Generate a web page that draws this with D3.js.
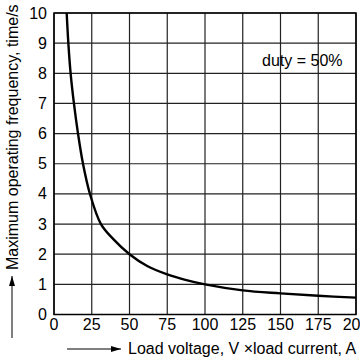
<!DOCTYPE html>
<html>
<head>
    <script src="https://cdn.jsdelivr.net/npm/d3@7"></script>
</head>
<body style="margin:0px; background:white;">
    <svg id="chart" width="360" height="358"></svg>
    <script>
        // values (load VA vs. max frequency)
        var loadVA = [8.4, 9.5, 11, 13.2, 15.9, 19.2, 23.8, 31.1, 39.3, 50, 62, 75, 87, 100, 125, 150, 175, 200];
        var maxFreq = [10, 9, 8, 7, 6, 5, 4, 3, 2.5, 2, 1.6, 1.33, 1.15, 1.0, 0.8, 0.7, 0.62, 0.56];
        var xTicks = [0, 25, 50, 75, 100, 125, 150, 175, 200];
        var yTicks = [0, 1, 2, 3, 4, 5, 6, 7, 8, 9, 10];

        var plotL = 54, plotR = 356, plotT = 13, plotB = 314.5;
        var svg = d3.select("#chart").style("font-family", "'Liberation Sans', Arial, sans-serif");

        var x = d3.scaleLinear().domain([0, 200]).range([plotL, plotR]);
        var y = d3.scaleLinear().domain([0, 10]).range([plotB, plotT]);

        // grid
        svg.append("g")
            .selectAll("line")
            .data(xTicks)
            .enter()
            .append("line")
            .attr("x1", d => x(d)).attr("x2", d => x(d))
            .attr("y1", plotT).attr("y2", plotB)
            .style("stroke", "#222").style("stroke-width", "1.2px");
        svg.append("g")
            .selectAll("line")
            .data(yTicks)
            .enter()
            .append("line")
            .attr("x1", plotL).attr("x2", plotR)
            .attr("y1", d => y(d)).attr("y2", d => y(d))
            .style("stroke", "#222").style("stroke-width", "1.2px");

        // frame
        svg.append("rect")
            .attr("x", plotL).attr("y", plotT)
            .attr("width", plotR - plotL).attr("height", plotB - plotT)
            .style("fill", "none").style("stroke", "black").style("stroke-width", "1.5px");

        // curve
        var pts = loadVA.map((v, i) => [v, maxFreq[i]]);
        svg.append("path")
            .datum(pts)
            .attr("d", d3.line().x(d => x(d[0])).y(d => y(d[1])).curve(d3.curveCatmullRom.alpha(0.5)))
            .style("fill", "none").style("stroke", "black").style("stroke-width", "2.4px");

        // tick labels
        svg.append("g")
            .selectAll("text")
            .data(xTicks)
            .enter()
            .append("text")
            .attr("x", d => x(d)).attr("y", 330)
            .attr("text-anchor", "middle")
            .style("font-size", "16px")
            .text(d => d);
        svg.append("g")
            .selectAll("text")
            .data(yTicks)
            .enter()
            .append("text")
            .attr("x", 47).attr("y", d => y(d) + 5.5)
            .attr("text-anchor", "end")
            .style("font-size", "16px")
            .text(d => d);

        svg.append("text")
            .attr("x", 262).attr("y", 66)
            .style("font-size", "16px")
            .text("duty = 50%");

        // axis titles with arrows
        var arrowHead = svg.append("defs").append("marker")
            .attr("id", "head").attr("viewBox", "0 0 10 6")
            .attr("refX", 10).attr("refY", 3)
            .attr("markerWidth", 10).attr("markerHeight", 6)
            .attr("markerUnits", "userSpaceOnUse")
            .attr("orient", "auto");
        arrowHead.append("path").attr("d", "M0,0L10,3L0,6Z").style("fill", "black");

        svg.append("line")
            .attr("x1", 67).attr("x2", 121).attr("y1", 349).attr("y2", 349)
            .style("stroke", "black").style("stroke-width", "1px")
            .attr("marker-end", "url(#head)");
        svg.append("text")
            .attr("x", 128).attr("y", 354)
            .style("font-size", "16px")
            .text("Load voltage, V \u00d7load current, A");

        svg.append("line")
            .attr("x1", 12).attr("x2", 12).attr("y1", 338).attr("y2", 276)
            .style("stroke", "black").style("stroke-width", "1px")
            .attr("marker-end", "url(#head)");
        svg.append("text")
            .attr("transform", "translate(17.5,270) rotate(-90)")
            .style("font-size", "16px")
            .text("Maximum operating frequency, time/s");
    </script>
</body>
</html>
